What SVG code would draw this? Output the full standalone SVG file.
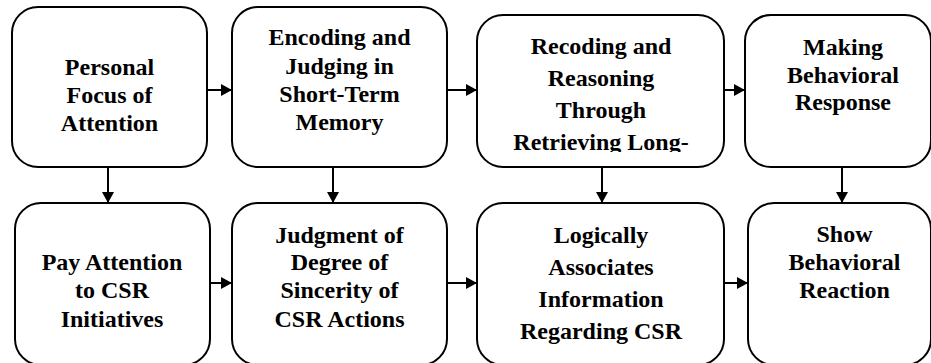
<svg xmlns="http://www.w3.org/2000/svg" width="931" height="363" viewBox="0 0 931 363">
  <defs>
    <marker id="arrow" markerUnits="userSpaceOnUse" markerWidth="12" markerHeight="12" refX="11" refY="6" orient="auto">
      <path d="M0,0 L11,6 L0,12 z" fill="#000"/>
    </marker>
    <!-- the third box only shows the part of its label that fits -->
    <clipPath id="clip-recoding">
      <rect x="477" y="15" width="247" height="137"/>
    </clipPath>
    <style>
      .box { fill: #fff; stroke: #000; stroke-width: 2; }
      .label { font-family: 'Liberation Serif', 'Times New Roman', serif; font-weight: bold; font-size: 24px; text-anchor: middle; fill: #000; }
      .conn { stroke: #000; stroke-width: 2; fill: none; marker-end: url(#arrow); }
    </style>
  </defs>
  <rect width="931" height="363" fill="#fff"/>

  <!-- top row -->
  <g id="personal-focus">
    <rect class="box" x="12" y="7" width="195" height="160" rx="26"/>
    <text class="label"><tspan x="109.5" y="75">Personal</tspan><tspan x="109.5" y="103">Focus of</tspan><tspan x="109.5" y="131">Attention</tspan></text>
  </g>
  <g id="encoding-judging">
    <rect class="box" x="232" y="7" width="215" height="160" rx="26"/>
    <text class="label"><tspan x="339.5" y="45">Encoding and</tspan><tspan x="339.5" y="74">Judging in</tspan><tspan x="339.5" y="102">Short-Term</tspan><tspan x="339.5" y="130">Memory</tspan></text>
  </g>
  <g id="recoding-reasoning">
    <rect class="box" x="477" y="15" width="247" height="152" rx="26"/>
    <text class="label" clip-path="url(#clip-recoding)"><tspan x="601" y="54">Recoding and</tspan><tspan x="601" y="86">Reasoning</tspan><tspan x="601" y="118">Through</tspan><tspan x="601" y="150">Retrieving Long-</tspan></text>
  </g>
  <g id="behavioral-response">
    <rect class="box" x="745" y="15" width="186" height="152" rx="26"/>
    <text class="label"><tspan x="843" y="55">Making</tspan><tspan x="843" y="83">Behavioral</tspan><tspan x="843" y="110">Response</tspan></text>
  </g>

  <!-- bottom row -->
  <g id="pay-attention">
    <rect class="box" x="15" y="203" width="195" height="162" rx="26"/>
    <text class="label"><tspan x="112" y="270">Pay Attention</tspan><tspan x="112" y="298">to CSR</tspan><tspan x="112" y="327">Initiatives</tspan></text>
  </g>
  <g id="sincerity-judgment">
    <rect class="box" x="232" y="203" width="215" height="162" rx="26"/>
    <text class="label"><tspan x="339.5" y="243">Judgment of</tspan><tspan x="339.5" y="270">Degree of</tspan><tspan x="339.5" y="298">Sincerity of</tspan><tspan x="339.5" y="327">CSR Actions</tspan></text>
  </g>
  <g id="logical-association">
    <rect class="box" x="477" y="203" width="247" height="162" rx="26"/>
    <text class="label"><tspan x="601" y="243">Logically</tspan><tspan x="601" y="275">Associates</tspan><tspan x="601" y="307">Information</tspan><tspan x="601" y="339">Regarding CSR</tspan></text>
  </g>
  <g id="behavioral-reaction">
    <rect class="box" x="748" y="203" width="183" height="162" rx="26"/>
    <text class="label"><tspan x="844.5" y="242">Show</tspan><tspan x="844.5" y="270">Behavioral</tspan><tspan x="844.5" y="298">Reaction</tspan></text>
  </g>

  <g id="connectors">
    <!-- left to right, top row -->
    <line class="conn" x1="207" y1="90" x2="232" y2="90"/>
    <line class="conn" x1="447" y1="90" x2="477" y2="90"/>
    <line class="conn" x1="724" y1="90" x2="745" y2="90"/>
    <!-- left to right, bottom row -->
    <line class="conn" x1="210" y1="283" x2="232" y2="283"/>
    <line class="conn" x1="447" y1="283" x2="477" y2="283"/>
    <line class="conn" x1="724" y1="283" x2="748" y2="283"/>
    <!-- top row down to bottom row -->
    <line class="conn" x1="108" y1="167" x2="108" y2="203"/>
    <line class="conn" x1="333" y1="167" x2="333" y2="203"/>
    <line class="conn" x1="602" y1="167" x2="602" y2="203"/>
    <line class="conn" x1="842" y1="167" x2="842" y2="203"/>
  </g>
</svg>
